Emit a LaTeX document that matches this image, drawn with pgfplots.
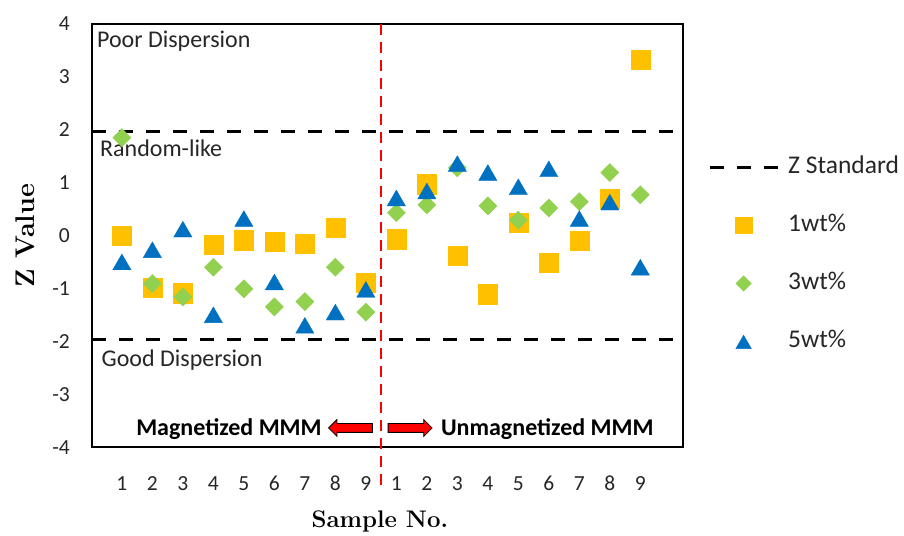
\documentclass[border=0pt]{standalone}
\usepackage{pgfplots}
\pgfplotsset{compat=1.18}
\usepackage{fontspec}
\setsansfont{Carlito}
\usetikzlibrary{shapes.arrows}
\definecolor{c1}{HTML}{FFC000}
\definecolor{c3}{HTML}{92D050}
\definecolor{c5}{HTML}{0070C0}
\begin{document}
\begin{tikzpicture}
\begin{axis}[
  scale only axis, width=591bp, height=423bp,
  xmin=0.02, xmax=19.4, ymin=-4, ymax=4,
  clip=false,
  axis line style={line width=1.6bp},
  xtick={1,...,18},
  xticklabels={1,2,3,4,5,6,7,8,9,1,2,3,4,5,6,7,8,9},
  ytick={-4,-3,-2,-1,0,1,2,3,4},
  major tick length=0pt,
  /pgf/number format/assume math mode=true,
  tick label style={font=\sffamily\fontsize{21.5bp}{25bp}\selectfont, text=black!85, inner sep=0pt, text height=14bp, text depth=0pt},
  xticklabel style={anchor=north, yshift=-29bp},
  yticklabel style={anchor=east, xshift=-22bp},
  xlabel={Sample No.}, ylabel={Z Value},
  every axis x label/.style={at={(axis description cs:0.487,-0.177)}, anchor=center, font=\rmfamily\bfseries\fontsize{24bp}{28bp}\selectfont},
  every axis y label/.style={at={(axis description cs:-0.1134,0.5)}, rotate=90, anchor=center, font=\rmfamily\bfseries\fontsize{27bp}{30bp}\selectfont},
  legend style={at={(1,0.5)}, anchor=west, xshift=25bp, yshift=-19bp, draw=none, fill=none,
    inner sep=0pt, outer sep=0pt, font=\sffamily\fontsize{25.5bp}{30bp}\selectfont,
    row sep=34bp, column sep=9bp,
    nodes={inner sep=0pt, text height=18bp, text depth=6bp, text=black!85}},
  legend cell align=left,
  legend image code/.code={\draw[mark repeat=2,mark phase=2,#1,every mark/.append style={scale=0.85}] plot coordinates {(0bp,0bp)(34bp,0bp)(68bp,0bp)};},
]
\addplot[black, line width=3.2bp, dash pattern=on 14bp off 13bp] coordinates {(0.02,1.96) (19.4,1.96)};
\addlegendentry{Z Standard}
\addplot[black, line width=3.2bp, dash pattern=on 14bp off 13bp, forget plot] coordinates {(0.02,-1.96) (19.4,-1.96)};
\addplot[red, line width=2bp, dash pattern=on 11bp off 7bp, forget plot] coordinates {(9.5,4) (9.5,-4.81)};

\addplot[only marks, mark=square*, mark size=9.6bp, color=c1] coordinates {
(1,0.00)(2,-0.99)(3,-1.09)(4,-0.17)(5,-0.09)(6,-0.12)(7,-0.15)(8,0.15)(9,-0.89)
(10,-0.07)(11,0.97)(12,-0.38)(13,-1.11)(14,0.24)(15,-0.51)(16,-0.10)(17,0.70)(18,3.32)};
\addlegendentry{1wt\%}
\addplot[only marks, mark=square*, mark size=6.4bp, color=c3, mark options={rotate=45}] coordinates {
(1,1.85)(2,-0.91)(3,-1.16)(4,-0.60)(5,-1.01)(6,-1.35)(7,-1.25)(8,-0.60)(9,-1.45)
(10,0.43)(11,0.58)(12,1.28)(13,0.56)(14,0.29)(15,0.52)(16,0.64)(17,1.19)(18,0.77)};
\addlegendentry{3wt\%}
\addplot[only marks, mark=triangle*, mark size=10.5bp, color=c5, mark options={yshift=-2.6bp}] coordinates {
(1,-0.50)(2,-0.27)(3,0.12)(4,-1.50)(5,0.32)(6,-0.88)(7,-1.70)(8,-1.45)(9,-1.02)
(10,0.71)(11,0.84)(12,1.36)(13,1.19)(14,0.92)(15,1.26)(16,0.32)(17,0.63)(18,-0.60)};
\addlegendentry{5wt\%}

\node[anchor=base west, inner sep=0pt, font=\sffamily\fontsize{24bp}{28bp}\selectfont, text=black!85] at (axis cs:0.18,3.56) {Poor Dispersion};
\node[anchor=base west, inner sep=0pt, font=\sffamily\fontsize{24bp}{28bp}\selectfont, text=black!85] at (axis cs:0.28,1.49) {Random-like};
\node[anchor=base west, inner sep=0pt, font=\sffamily\fontsize{24bp}{28bp}\selectfont, text=black!85] at (axis cs:0.33,-2.48) {Good Dispersion};
\node[anchor=base east, inner sep=0pt, font=\sffamily\bfseries\fontsize{24bp}{28bp}\selectfont] at (axis cs:7.56,-3.79) {Magnetized MMM};
\node[anchor=base west, inner sep=0pt, font=\sffamily\bfseries\fontsize{24bp}{28bp}\selectfont] at (axis cs:11.46,-3.79) {Unmagnetized MMM};
\node[single arrow, draw=black, fill=red, line width=0.8bp, inner sep=4bp, minimum height=44bp, single arrow head extend=4bp, shape border rotate=180] at (axis cs:8.57,-3.64) {};
\node[single arrow, draw=black, fill=red, line width=0.8bp, inner sep=4bp, minimum height=44bp, single arrow head extend=4bp] at (axis cs:10.38,-3.64) {};
\end{axis}
\pgfresetboundingbox
\path (current axis.south west) ++(-92bp,-89bp) rectangle ++(904bp,536bp);
\end{tikzpicture}
\end{document}
